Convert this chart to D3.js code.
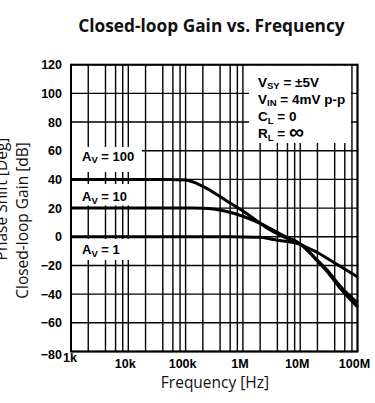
<!DOCTYPE html>
<html><head><meta charset="utf-8">
<script src="https://cdn.jsdelivr.net/npm/d3@7"></script>
<style>
html,body{margin:0;padding:0;background:#fff;}
svg{display:block;}
</style></head>
<body>
<svg id="c" width="375" height="403"></svg>
<script>
// ---- data ----
const freqs = [1e3, 1e4, 5e4, 1e5, 2e5, 5e5, 1e6, 2e6, 3e6, 5e6, 1e7, 2e7, 3e7, 5e7, 1e8];
const gainAv100 = [40, 40, 40, 39.6, 35.2, 25.5, 18, 9.5, 4.7, 0.3, -5.3, -11, -15.2, -20.5, -28];
const gainAv10  = [20, 20, 20, 20, 19.9, 17.8, 14.3, 9.3, 5.8, 1, -5, -16.5, -23.6, -34.5, -46];
const gainAv1   = [0, 0, 0, 0, 0, 0, -0.1, -0.4, -1.5, -3, -5.2, -17, -24.5, -36, -49];
const yTicks = [120, 100, 80, 60, 40, 20, 0, -20, -40, -60, -80];
const xTickValues = [1e3, 1e4, 1e5, 1e6, 1e7, 1e8];
const xTickLabels = ["1k", "10k", "100k", "1M", "10M", "100M"];
const gridMultipliers = [2, 4, 6, 8];
const curveLabels = ["100", "10", "1"];
const legendLines = [["V","SY"," = \u00B15V"],["V","IN"," = 4mV p-p"],["C","L"," = 0"],["R","L"," = ", "\u221E"]];

const svg = d3.select("#c");
const L = 71, R = 357.5, T = 64.7, B = 351.5;
const x = d3.scaleLog().domain([1e3, 1e8]).range([L, R]);
const y = d3.scaleLinear().domain([-80, 120]).range([B, T]);

const tickFont = "'Liberation Sans', Arial, sans-serif";
const titleFont = "'Open Sans', 'Noto Sans', sans-serif";

// title
svg.append("text").attr("x", 211.5).attr("y", 31.5).attr("text-anchor", "middle")
  .attr("font-family", titleFont).attr("font-weight", "bold").attr("font-size", 17.3)
  .attr("fill", "#111").text("Closed-loop Gain vs. Frequency");

// grid
const g = svg.append("g");
const vLines = [];
xTickValues.slice(0, -1).forEach(d => gridMultipliers.forEach(m => vLines.push(d * m)));
xTickValues.forEach(d => vLines.push(d));
g.selectAll("line.v").data(vLines).join("line")
  .attr("x1", d => x(d)).attr("x2", d => x(d)).attr("y1", T).attr("y2", B)
  .attr("stroke", "#000").attr("stroke-width", 1.4);
g.selectAll("line.h").data(yTicks).join("line")
  .attr("x1", L).attr("x2", R).attr("y1", d => y(d)).attr("y2", d => y(d))
  .attr("stroke", "#000").attr("stroke-width", 1.4);

// white label boxes
const boxes = [
  {x0: L + 1, x1: 142, y0: 147, y1: 172},
  {x0: L + 1, x1: 132, y0: 184, y1: 205.5},
  {x0: L + 1, x1: 132, y0: 239, y1: 260},
  {x0: 249, x1: 351, y0: T + 1, y1: 143}
];
svg.selectAll("rect.box").data(boxes).join("rect")
  .attr("x", d => d.x0).attr("y", d => d.y0)
  .attr("width", d => d.x1 - d.x0).attr("height", d => d.y1 - d.y0)
  .attr("fill", "#fff");

// frame
svg.append("rect").attr("x", L).attr("y", T).attr("width", R - L).attr("height", B - T)
  .attr("fill", "none").attr("stroke", "#000").attr("stroke-width", 2);

// curve labels
const labelY = [y(40) - 18.5, y(20) - 7, y(0) + 17.5];
curveLabels.forEach((t, i) => {
  const tx = svg.append("text").attr("x", 82).attr("y", labelY[i])
    .attr("font-family", tickFont).attr("font-weight", "bold").attr("font-size", 13).attr("fill", "#000");
  tx.append("tspan").text("A");
  tx.append("tspan").attr("font-size", 9.5).attr("dy", 2.5).text("V");
  tx.append("tspan").attr("dy", -2.5).text(" = " + t);
});

// legend text
legendLines.forEach((l, i) => {
  const tx = svg.append("text").attr("x", 258).attr("y", 86.5 + i * 17.3)
    .attr("font-family", tickFont).attr("font-weight", "bold").attr("font-size", 13.5).attr("fill", "#000");
  tx.append("tspan").text(l[0]);
  tx.append("tspan").attr("font-size", 9.5).attr("dy", 2.5).text(l[1]);
  tx.append("tspan").attr("dy", -2.5).text(l[2]);
  if (l[3]) tx.append("tspan").attr("font-size", 21).attr("dy", 1).text(l[3]);
});

// curves
const line = d3.line().x(d => x(d[0])).y(d => y(d[1])).curve(d3.curveMonotoneX);
[gainAv100, gainAv10, gainAv1].forEach(s => {
  svg.append("path").attr("d", line(freqs.map((f, i) => [f, s[i]])))
    .attr("fill", "none").attr("stroke", "#000").attr("stroke-width", 3).attr("stroke-linejoin", "round");
});

// y tick labels
svg.selectAll("text.yt").data(yTicks).join("text")
  .attr("x", 62).attr("y", d => d === -80 ? y(d) + 7 : y(d) + 4.5)
  .attr("text-anchor", "end")
  .attr("font-family", tickFont).attr("font-weight", "bold").attr("font-size", 12.5).attr("fill", "#000")
  .text(d => d < 0 ? "\u2212" + Math.abs(d) : d);

// x tick labels
svg.selectAll("text.xt").data(xTickValues).join("text")
  .attr("x", (d, i) => i === 0 ? x(d) - 1 : x(d) - 3)
  .attr("y", (d, i) => i === 0 ? 361.5 : 367.5)
  .attr("text-anchor", "middle")
  .attr("font-family", tickFont).attr("font-weight", "bold").attr("font-size", 12.5).attr("fill", "#000")
  .text((d, i) => xTickLabels[i]);

// axis titles
svg.append("text").attr("x", 215).attr("y", 387.5).attr("text-anchor", "middle")
  .attr("font-family", titleFont).attr("font-size", 15.5).attr("fill", "#111").text("Frequency [Hz]");
svg.append("text").attr("transform", "translate(28,220.5) rotate(-90)").attr("text-anchor", "middle")
  .attr("font-family", titleFont).attr("font-size", 15.5).attr("fill", "#111").text("Closed-loop Gain [dB]");
svg.append("text").attr("transform", "translate(7,199) rotate(-90)").attr("text-anchor", "middle")
  .attr("font-family", titleFont).attr("font-size", 15.5).attr("fill", "#111").text("Phase Shift [Deg]");
</script>
</body></html>
